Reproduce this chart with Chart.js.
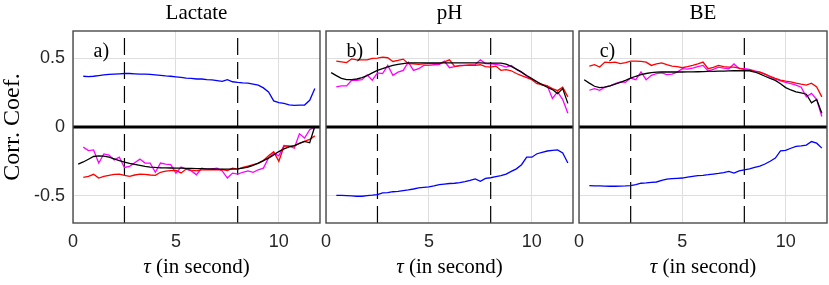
<!DOCTYPE html>
<html lang="en">
<head>
  <meta charset="UTF-8" />
  <title>Corr. Coef. vs tau</title>
  <script src="https://cdn.jsdelivr.net/npm/chart.js"></script>
  <style>
    body { margin: 0; background: #fff; }
    #wrap { position: relative; width: 829px; height: 285px; }
    canvas { position: absolute; top: 0; }
  </style>
</head>
<body>
  <div id="wrap">
    <canvas id="c0" width="323" height="285" style="left:0px"></canvas>
    <canvas id="c1" width="270" height="285" style="left:306px"></canvas>
    <canvas id="c2" width="270" height="285" style="left:559px"></canvas>
  </div>

  <script>
    // lag axis (seconds)
    const tau = [0.5, 0.75, 1, 1.25, 1.5, 1.75, 2, 2.25, 2.5, 2.75, 3, 3.25, 3.5, 3.75, 4, 4.25, 4.5, 4.75, 5, 5.25, 5.5, 5.75,
      6, 6.25, 6.5, 6.75, 7, 7.25, 7.5, 7.75, 8, 8.25, 8.5, 8.75, 9, 9.25, 9.5, 9.75, 10, 10.25, 10.5, 10.75, 11, 11.25, 11.5, 11.75];
    const tauBlack = [0.25, 0.5, 0.75, 1, 1.25, 1.5, 1.75, 2, 2.25, 2.5, 2.75, 3, 3.25, 3.5, 3.75, 4, 4.25, 4.5, 4.75, 5, 5.25, 5.5, 5.75,
      6, 6.25, 6.5, 6.75, 7, 7.25, 7.5, 7.75, 8, 8.25, 8.5, 8.75, 9, 9.25, 9.5, 9.75, 10, 10.25, 10.5, 10.75, 11, 11.25, 11.5, 11.75];

    const panelTitles = ['Lactate', 'pH', 'BE'];
    const panelTags = ['a)', 'b)', 'c)'];
    const markers = [2.5, 8];
    const xTicks = [0, 5, 10];
    const yTicks = [-0.5, 0, 0.5];

    // Lactate
    const lacBlue = [0.37, 0.368, 0.37, 0.375, 0.38, 0.383, 0.386, 0.388, 0.39, 0.39, 0.388, 0.386, 0.386, 0.383, 0.38, 0.377, 0.373, 0.37, 0.366, 0.362, 0.357, 0.355,
      0.35, 0.35, 0.346, 0.343, 0.338, 0.333, 0.345, 0.33, 0.325, 0.322, 0.32, 0.313, 0.305, 0.285, 0.255, 0.19, 0.178, 0.172, 0.162, 0.158, 0.16, 0.16, 0.195, 0.28];
    const lacRed = [-0.367, -0.36, -0.345, -0.372, -0.36, -0.352, -0.345, -0.343, -0.352, -0.36, -0.35, -0.343, -0.345, -0.35, -0.353, -0.33, -0.322, -0.318, -0.316, -0.335, -0.307, -0.315,
      -0.32, -0.312, -0.312, -0.31, -0.312, -0.31, -0.318, -0.3, -0.307, -0.295, -0.285, -0.275, -0.265, -0.245, -0.21, -0.18, -0.25, -0.14, -0.14, -0.14, -0.12, -0.105, -0.09, -0.065];
    const lacMag = [-0.147, -0.172, -0.167, -0.263, -0.196, -0.205, -0.24, -0.22, -0.295, -0.287, -0.26, -0.234, -0.263, -0.263, -0.33, -0.263, -0.27, -0.275, -0.336, -0.292, -0.307, -0.32,
      -0.348, -0.3, -0.307, -0.305, -0.3, -0.32, -0.372, -0.336, -0.343, -0.33, -0.32, -0.33, -0.312, -0.3, -0.225, -0.19, -0.21, -0.135, -0.14, -0.155, -0.05, -0.08, -0.02, 0.0];
    const lacBlack = [-0.27, -0.255, -0.235, -0.215, -0.21, -0.212, -0.22, -0.232, -0.245, -0.256, -0.265, -0.273, -0.28, -0.287, -0.292, -0.295, -0.297, -0.298, -0.299, -0.3, -0.3, -0.301, -0.302,
      -0.303, -0.304, -0.305, -0.306, -0.307, -0.307, -0.307, -0.307, -0.305, -0.3, -0.292, -0.28, -0.263, -0.245, -0.227, -0.203, -0.179, -0.16, -0.145, -0.135, -0.12, -0.105, -0.115, 0.005];

    // pH
    const phBlue = [-0.498, -0.498, -0.5, -0.502, -0.505, -0.505, -0.5, -0.497, -0.493, -0.48, -0.478, -0.472, -0.469, -0.464, -0.459, -0.452, -0.444, -0.44, -0.437, -0.43, -0.42, -0.416,
      -0.412, -0.41, -0.405, -0.398, -0.39, -0.379, -0.396, -0.375, -0.37, -0.362, -0.355, -0.343, -0.324, -0.305, -0.275, -0.22, -0.22, -0.195, -0.185, -0.175, -0.17, -0.167, -0.19, -0.263];
    const phRed = [0.48, 0.475, 0.47, 0.497, 0.49, 0.49, 0.49, 0.5, 0.502, 0.51, 0.505, 0.478, 0.485, 0.495, 0.462, 0.46, 0.457, 0.46, 0.462, 0.462, 0.462, 0.475,
      0.49, 0.442, 0.445, 0.449, 0.452, 0.45, 0.454, 0.44, 0.437, 0.444, 0.413, 0.418, 0.41, 0.39, 0.375, 0.36, 0.345, 0.316, 0.31, 0.3, 0.28, 0.265, 0.29, 0.22];
    const phMag = [0.292, 0.3, 0.3, 0.341, 0.341, 0.345, 0.38, 0.341, 0.394, 0.389, 0.449, 0.377, 0.4, 0.413, 0.473, 0.413, 0.425, 0.449, 0.45, 0.454, 0.455, 0.48,
      0.432, 0.44, 0.449, 0.449, 0.449, 0.455, 0.49, 0.462, 0.46, 0.457, 0.45, 0.437, 0.449, 0.42, 0.4, 0.37, 0.35, 0.33, 0.305, 0.3, 0.208, 0.256, 0.2, 0.1];
    const phBlack = [0.396, 0.375, 0.355, 0.345, 0.345, 0.35, 0.36, 0.375, 0.395, 0.413, 0.425, 0.438, 0.449, 0.456, 0.462, 0.468, 0.468, 0.468, 0.468, 0.468, 0.468, 0.468, 0.468,
      0.468, 0.468, 0.468, 0.468, 0.468, 0.468, 0.467, 0.466, 0.466, 0.466, 0.466, 0.458, 0.442, 0.422, 0.4, 0.375, 0.353, 0.33, 0.309, 0.29, 0.273, 0.244, 0.28, 0.172];

    // BE
    const beBlue = [-0.428, -0.43, -0.43, -0.431, -0.432, -0.432, -0.431, -0.43, -0.428, -0.42, -0.41, -0.408, -0.404, -0.401, -0.39, -0.38, -0.377, -0.374, -0.372, -0.365, -0.36, -0.355,
      -0.352, -0.348, -0.343, -0.338, -0.332, -0.324, -0.336, -0.32, -0.312, -0.305, -0.295, -0.285, -0.27, -0.25, -0.227, -0.174, -0.171, -0.155, -0.142, -0.138, -0.132, -0.106, -0.118, -0.154];
    const beRed = [0.444, 0.454, 0.437, 0.473, 0.47, 0.473, 0.462, 0.47, 0.48, 0.48, 0.478, 0.473, 0.449, 0.46, 0.468, 0.455, 0.444, 0.44, 0.432, 0.44, 0.449, 0.46,
      0.473, 0.425, 0.435, 0.449, 0.44, 0.437, 0.437, 0.43, 0.418, 0.415, 0.405, 0.4, 0.385, 0.37, 0.355, 0.342, 0.335, 0.329, 0.32, 0.312, 0.305, 0.32, 0.292, 0.22];
    const beMag = [0.268, 0.28, 0.268, 0.29, 0.3, 0.316, 0.329, 0.325, 0.357, 0.345, 0.401, 0.345, 0.377, 0.389, 0.394, 0.382, 0.385, 0.4, 0.425, 0.422, 0.43, 0.44,
      0.449, 0.408, 0.42, 0.437, 0.43, 0.425, 0.46, 0.425, 0.425, 0.42, 0.41, 0.401, 0.385, 0.365, 0.35, 0.336, 0.325, 0.316, 0.305, 0.29, 0.22, 0.245, 0.2, 0.077];
    const beBlack = [0.345, 0.32, 0.297, 0.287, 0.29, 0.3, 0.312, 0.325, 0.34, 0.357, 0.37, 0.382, 0.39, 0.396, 0.4, 0.401, 0.401, 0.401, 0.401, 0.401, 0.402, 0.402, 0.403,
      0.404, 0.405, 0.406, 0.407, 0.408, 0.409, 0.41, 0.41, 0.41, 0.41, 0.401, 0.388, 0.37, 0.355, 0.34, 0.315, 0.287, 0.27, 0.256, 0.248, 0.239, 0.176, 0.2, 0.1];

    const series = [
      { blue: lacBlue, red: lacRed, mag: lacMag, black: lacBlack },
      { blue: phBlue, red: phRed, mag: phMag, black: phBlack },
      { blue: beBlue, red: beRed, mag: beMag, black: beBlack }
    ];

    const X_MAX = 12;
    const Y_MIN = -0.7, Y_MAX = 0.7;
    const gridColor = '#dedede';
    const tickFont = { family: 'Liberation Sans', size: 18 };
    const serif = 'Liberation Serif';

    function line(xs, ys, color, order) {
      return {
        data: xs.map((x, i) => ({ x: x, y: ys[i] })),
        borderColor: color, borderWidth: 1.3, pointRadius: 0, order: order
      };
    }

    // box round the plot area, the a) b) c) tag, and the x label with an italic tau
    const framePlugin = {
      id: 'frame',
      afterDraw(chart, args, opts) {
        const { ctx, chartArea: a, scales } = chart;
        ctx.save();
        ctx.fillStyle = '#000';
        ctx.textBaseline = 'alphabetic';
        ctx.font = '20px ' + serif;
        ctx.fillText(opts.tag, scales.x.getPixelForValue(1.0), scales.y.getPixelForValue(0.5) - 1);

        const sym = 'τ', rest = ' (in second)';
        ctx.font = 'italic 21px ' + serif;
        const w1 = ctx.measureText(sym).width;
        ctx.font = '21px ' + serif;
        const w2 = ctx.measureText(rest).width;
        let x0 = (a.left + a.right) / 2 - (w1 + w2) / 2;
        ctx.font = 'italic 21px ' + serif;
        ctx.fillText(sym, x0, 273);
        ctx.font = '21px ' + serif;
        ctx.fillText(rest, x0 + w1, 273);

        ctx.strokeStyle = '#4a4a4a';
        ctx.lineWidth = 1.4;
        ctx.strokeRect(a.left, a.top, a.right - a.left, a.bottom - a.top);
        ctx.restore();
      }
    };

    panelTitles.forEach((title, i) => {
      const s = series[i];
      const datasets = [
        line(tauBlack, s.black, '#000000', 1),
        line(tau, s.mag, '#ff00ff', 3),
        line(tau, s.red, '#ff0000', 2),
        line(tau, s.blue, '#0000ff', 4),
        { data: [{ x: 0, y: 0 }, { x: X_MAX, y: 0 }], borderColor: '#000', borderWidth: 3, pointRadius: 0, order: 0 }
      ];
      markers.forEach(m => {
        datasets.push({
          data: [{ x: m, y: Y_MIN }, { x: m, y: Y_MAX }],
          borderColor: '#000', borderWidth: 1.2, borderDash: [17, 7], pointRadius: 0, order: 5
        });
      });

      const first = i === 0;
      new Chart(document.getElementById('c' + i), {
        type: 'line',
        data: { datasets: datasets },
        options: {
          responsive: false,
          animation: false,
          devicePixelRatio: 1,
          layout: { padding: { left: 0, right: i === 2 ? 2 : 3, top: 0, bottom: 0 } },
          plugins: {
            legend: { display: false },
            tooltip: { enabled: false },
            title: {
              display: true, text: title, fullSize: false, color: '#000',
              font: { family: serif, size: 21, weight: 'normal' },
              padding: { top: 1, bottom: 4.8 }
            },
            frame: { tag: panelTags[i] }
          },
          scales: {
            x: {
              type: 'linear', min: 0, max: X_MAX,
              afterBuildTicks: sc => { sc.ticks = xTicks.map(v => ({ value: v })); },
              afterFit: sc => { sc.height = 62; },
              grid: { color: gridColor, drawTicks: false },
              border: { display: false },
              ticks: { font: tickFont, color: '#262626', padding: 8, maxRotation: 0, autoSkip: false },
              title: { display: false }
            },
            y: {
              type: 'linear', min: Y_MIN, max: Y_MAX,
              afterBuildTicks: sc => { sc.ticks = yTicks.map(v => ({ value: v })); },
              afterFit: sc => { sc.width = first ? 73 : 20; },
              grid: { color: gridColor, drawTicks: false },
              border: { display: false },
              ticks: { display: first, font: tickFont, color: '#262626', padding: 8 },
              title: {
                display: first, text: 'Corr. Coef.', color: '#000',
                font: { family: serif, size: 24, lineHeight: 1 }, padding: { top: 0.5, bottom: 0 }
              }
            }
          }
        },
        plugins: [framePlugin]
      });
    });
  </script>
</body>
</html>
